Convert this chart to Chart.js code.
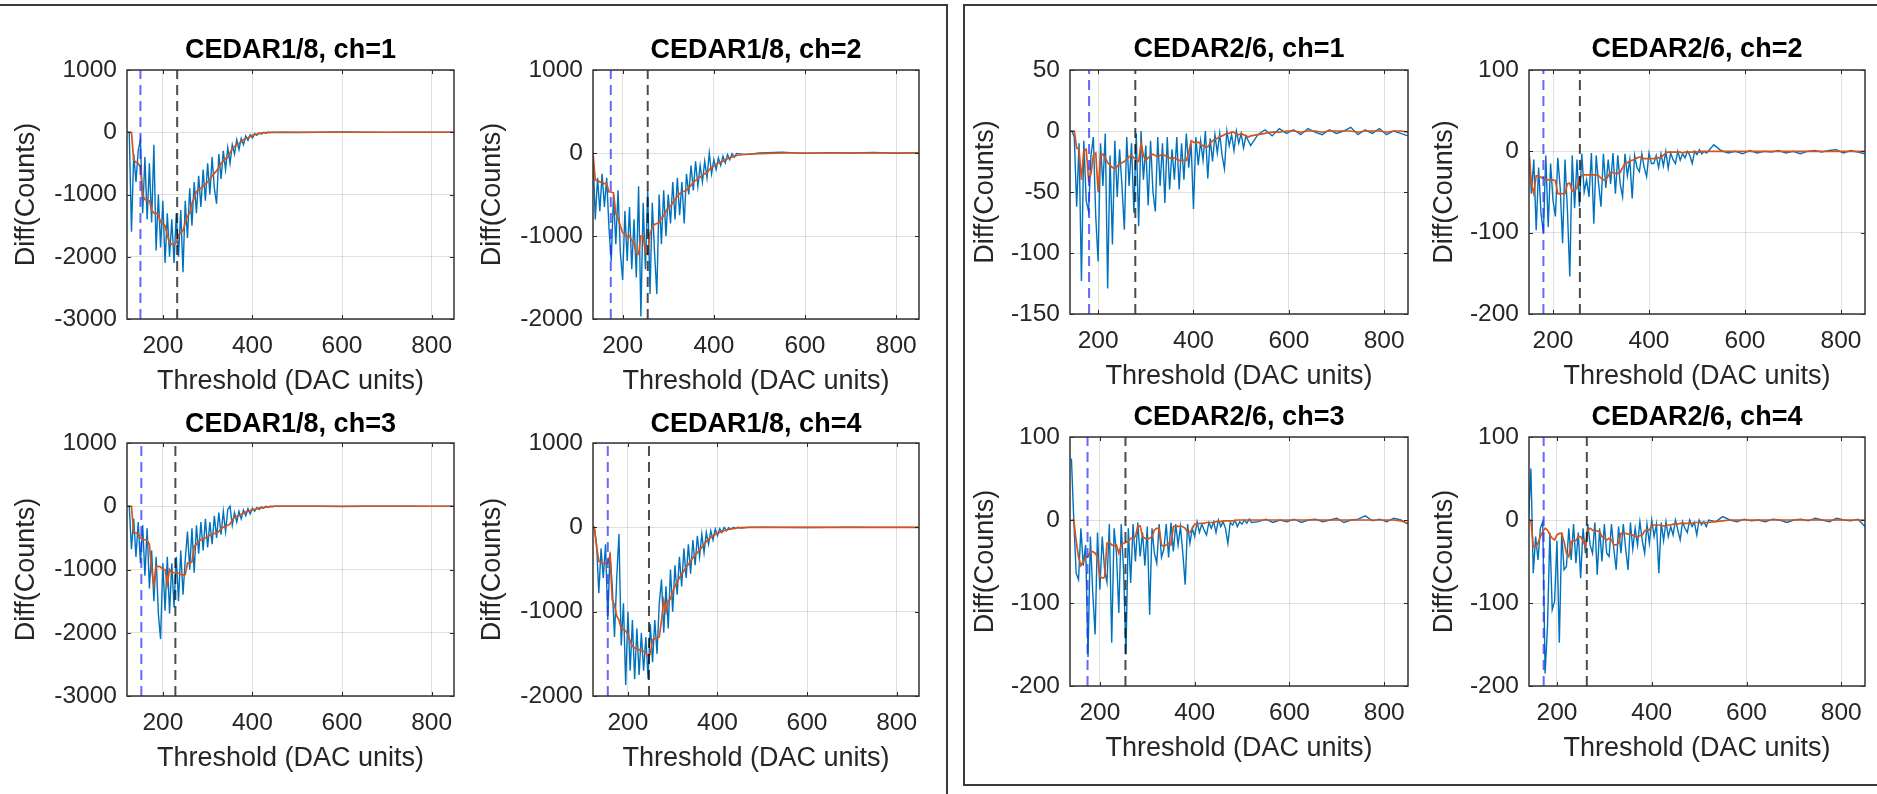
<!DOCTYPE html>
<html lang="en">
<head>
<meta charset="UTF-8">
<title>CEDAR threshold scans</title>
<script src="https://cdn.jsdelivr.net/npm/chart.js"></script>
<style>
    html, body { margin: 0; padding: 0; background: #fff; }
    body { width: 1877px; height: 794px; position: relative; overflow: hidden; }
    .panel { position: absolute; box-sizing: border-box; border: 2px solid #3a3a3a; }
    canvas { position: absolute; }
</style>
</head>
<body>
<div class="panel" style="left:-10px; top:4px; width:958px; height:810px;"></div>
<div class="panel" style="left:963px; top:4px; width:930px; height:782px;"></div>

<script>
// threshold grids (DAC units)
const xLeft = [
    120,125,130,135,140,145,150,155,160,165,
    170,175,180,185,190,195,200,205,210,215,
    220,225,230,235,240,245,250,255,260,265,
    270,275,280,285,290,295,300,305,310,315,
    320,325,330,335,340,345,350,355,360,365,
    370,375,380,385,390,395,400,405,410,415,
    420,425,430,435,440,445,450,
    470,500,550,600,650,700,750,800,850
];
const xRight = [
    140,145,150,155,160,165,170,175,180,185,
    190,195,200,205,210,215,220,225,230,235,
    240,245,250,255,260,265,270,275,280,285,
    290,295,300,305,310,315,320,325,330,335,
    340,345,350,355,360,365,370,375,380,385,
    390,395,400,405,410,415,420,425,430,435,
    440,445,450,455,460,465,470,475,480,485,
    490,495,500,505,510,515,520,
    535,550,565,580,595,610,625,640,655,670,685,700,715,730,745,760,775,790,805,820,835,850
];

// CEDAR1/8 raw difference (blue) and smoothed (orange)
const c18ch1Raw = [
    0,0,-1600,-350,-800,-300,-120,-1300,-400,-1400,
    -500,-1450,-200,-1900,-1000,-1850,-1100,-2100,-1300,-2000,
    -1400,-2100,-1300,-2000,-1250,-2250,-1100,-1700,-900,-1500,
    -800,-1300,-700,-1200,-600,-1100,-500,-1000,-400,-900,
    -1150,-350,-750,-300,-600,-250,-500,-200,-350,-120,
    -280,-100,-200,-60,-130,-40,-90,-20,-50,-10,
    -30,0,-15,0,-8,0,-5,
    0,-3,0,4,0,-2,0,2,0
];
const c18ch1Smooth = [
    0,0,0,-450,-480,-500,-560,-1000,-1080,-1090,
    -1100,-1250,-1300,-1300,-1320,-1450,-1470,-1500,-1650,-1780,
    -1800,-1800,-1780,-1650,-1620,-1580,-1450,-1350,-1300,-1150,
    -1050,-950,-920,-900,-870,-830,-800,-760,-700,-660,
    -620,-560,-500,-470,-420,-400,-330,-260,-230,-200,
    -180,-150,-120,-100,-90,-70,-50,-40,-30,-20,
    -15,-10,-5,-3,0,0,0,
    0,0,0,0,0,0,0,0,0
];
const c18ch2Raw = [
    0,0,0,0,-800,-300,-700,-250,-650,-300,
    -900,-1300,-500,-1100,-450,-1200,-1530,-700,-1300,-650,
    -1400,-800,-1500,-400,-1970,-600,-1400,-450,-1700,-600,
    -1200,-1700,-500,-1100,-450,-1000,-500,-850,-350,-800,
    -300,-750,-350,-850,-250,-500,-150,-450,-100,-400,
    -150,-350,-100,-300,0,-250,-80,-200,-60,-150,
    -40,-120,-20,-80,-10,-50,-5,
    -20,0,10,-5,5,0,8,-3,5
];
const c18ch2Smooth = [
    0,0,0,0,-325,-330,-350,-350,-370,-370,
    -470,-470,-480,-730,-790,-880,-960,-980,-1010,-1000,
    -1050,-1090,-1200,-1220,-1000,-1000,-1200,-1220,-970,-900,
    -860,-850,-840,-780,-760,-700,-660,-640,-600,-560,
    -520,-490,-470,-460,-450,-420,-390,-350,-330,-310,
    -290,-270,-250,-240,-200,-170,-160,-140,-120,-110,
    -100,-80,-70,-60,-50,-40,-30,
    -15,-8,0,0,0,0,0,0,0
];
const c18ch3Raw = [
    0,0,-680,-200,-800,-250,-900,-300,-1100,-350,
    -1300,-700,-1500,-800,-1700,-2100,-900,-1650,-800,-1700,
    -900,-1600,-800,-1500,-700,-1400,-850,-400,-1000,-350,
    -1050,-300,-750,-250,-700,-200,-650,-250,-600,-150,
    -500,-100,-450,-80,-400,-50,0,-300,-100,-250,
    -80,-200,-60,-150,-40,-120,-30,-80,-20,-50,
    -10,-30,0,-15,0,-8,0,
    0,2,0,-3,0,1,0,-2,0
];
const c18ch3Smooth = [
    0,0,0,-420,-420,-430,-500,-520,-530,-540,
    -600,-1000,-1250,-950,-950,-960,-1000,-1000,-1230,-1000,
    -1050,-1050,-1050,-1060,-1080,-1090,-1080,-900,-900,-880,
    -630,-600,-550,-530,-520,-500,-480,-460,-450,-430,
    -420,-400,-350,-330,-320,-300,-280,-220,-170,-160,
    -150,-130,-110,-90,-80,-70,-60,-50,-40,-30,
    -25,-20,-15,-10,-5,0,0,
    0,0,0,0,0,0,0,0,0
];
const c18ch4Raw = [
    0,0,-200,-780,-250,-600,-200,-1100,-300,-700,
    -1300,-600,-80,-1400,-900,-1870,-1000,-1700,-1100,-1800,
    -1200,-1750,-1250,-1700,-1300,-1800,-1150,-1600,-1100,-1500,
    -900,-620,-1250,-700,-1200,-500,-1000,-450,-800,-350,
    -700,-250,-600,-200,-550,-150,-450,-100,-350,-80,
    -300,-60,-200,-40,-150,-20,-100,-15,-60,0,
    -40,-5,-25,0,-15,0,-8,
    0,3,0,-2,0,2,0,-1,0
];
const c18ch4Smooth = [
    0,0,-230,-400,-420,-430,-430,-420,-330,-860,
    -920,-1050,-1100,-1200,-1210,-1230,-1270,-1350,-1410,-1430,
    -1440,-1450,-1460,-1470,-1490,-1530,-1500,-1330,-1320,-1310,
    -1300,-1100,-870,-1000,-870,-850,-760,-700,-650,-600,
    -550,-520,-470,-440,-400,-360,-330,-300,-270,-240,
    -200,-170,-140,-120,-100,-85,-70,-60,-50,-40,
    -30,-25,-20,-15,-10,-5,-3,
    0,0,0,0,0,0,0,0,0
];

// CEDAR2/6 raw difference (blue) and smoothed (orange)
const c26ch1Raw = [
    0,0,-5,-62,-10,-123,-8,-57,-66,-20,
    -5,-70,-107,-10,-45,-2,-129,-20,-93,-8,
    -54,-15,-45,-81,-5,-45,-10,-67,-2,-78,
    0,-40,-12,-61,-8,-50,-66,-5,-45,-10,
    -59,-5,-48,-15,-40,-5,-48,-10,-40,-2,
    -30,-10,-64,-5,-28,-8,-24,0,-39,-6,
    -25,-3,-18,-2,-20,-31,0,-12,-3,-16,
    0,-10,-2,-14,-4,-8,-12,
    -3,1,-4,2,-2,1,-3,2,-1,-3,1,-2,0,3,-3,1,-2,2,-3,0,-2,-4
];
const c26ch1Smooth = [
    0,0,0,-14,-15,-40,-16,-15,-40,-35,
    -20,-18,-50,-20,-19,-22,-26,-28,-30,-31,
    -29,-27,-26,-25,-23,-21,-20,-22,-24,-25,
    -10,-20,-24,-22,-20,-19,-20,-21,-20,-19,
    -20,-21,-22,-23,-22,-23,-24,-24,-24,-24,
    -18,-8,-9,-10,-9,-11,-12,-13,-13,-10,
    -8,-7,-6,-5,-4,-3,-2,-2,-1,-1,
    -3,-3,-2,-3,-4,-5,-4,
    -3,-2,-1,-1,0,0,-1,0,0,-1,0,0,0,0,-1,0,0,0,-1,0,0,-1
];
const c26ch2Raw = [
    0,0,0,-52,-10,-97,-20,-76,-100,-5,
    -93,-15,-60,-80,-8,-45,-113,-10,-72,-154,
    -5,-70,-10,-68,-3,-50,-35,-56,-2,-89,
    -5,-40,-68,-3,-45,-10,-40,-2,-52,-5,
    -40,-56,-3,-30,-10,-58,-5,-20,-25,-3,
    -20,-31,-2,-15,-15,-5,-20,-3,-18,0,
    -21,-2,-10,-15,0,-11,-3,-8,0,-5,
    -15,0,-4,2,-3,0,-2,
    8,1,-2,0,-3,1,-2,0,-1,1,-2,0,-3,0,1,-1,1,2,-2,1,-1,-3
];
const c26ch2Smooth = [
    0,0,0,-40,-52,-30,-30,-32,-33,-34,
    -35,-35,-35,-36,-52,-52,-52,-52,-40,-39,
    -49,-48,-45,-32,-30,-29,-29,-29,-29,-29,
    -29,-30,-33,-35,-35,-30,-26,-26,-27,-27,
    -26,-20,-15,-14,-12,-11,-10,-8,-7,-8,
    -9,-9,-9,-9,-9,-8,-8,-7,-5,-2,
    -1,-1,-1,-1,-1,-1,-2,-1,-1,-1,
    -1,0,-1,-1,0,0,0,
    0,0,0,0,0,0,0,0,0,0,0,0,0,0,0,0,0,0,0,0,0,0
];
const c26ch3Raw = [
    74,0,-64,-72,-10,-55,-30,-165,-20,-88,
    -138,-15,-84,-20,-60,-75,-5,-148,-10,-40,
    -112,-5,-60,-162,-10,-76,-5,-50,-3,-44,
    -15,-55,-8,-114,-10,-40,-52,-5,-45,-35,
    -5,-45,-3,-38,-5,-30,-8,-40,-78,-5,
    -28,-10,-20,-2,-15,-5,-12,-18,-3,-10,
    -2,-15,0,-8,-2,-10,-28,-3,-6,0,
    -8,-2,-5,0,-4,1,-3,
    -2,1,-3,0,-2,1,-3,0,1,-2,0,2,-3,0,1,5,-1,1,-2,2,0,-5
];
const c26ch3Smooth = [
    0,0,-25,-45,-55,-50,-45,-44,-38,-38,
    -40,-45,-68,-70,-69,-28,-27,-30,-31,-30,
    -40,-30,-28,-27,-26,-22,-22,-20,-8,-7,
    -20,-22,-23,-22,-20,-12,-10,-10,-30,-32,
    -30,-28,-30,-8,-7,-8,-7,-8,-10,-15,
    -15,-10,-5,-5,-4,-4,-4,-3,-3,-3,
    -3,-2,-2,-2,-1,-1,-1,-1,-1,-1,
    0,0,0,0,0,0,0,
    0,0,0,0,0,0,0,0,0,0,0,0,0,0,0,0,0,0,0,0,-1,-4
];
const c26ch4Raw = [
    0,62,-64,-20,-48,-10,-2,-185,-128,-15,
    -108,-98,-25,-148,-15,-60,-56,-10,-48,-5,
    -52,-15,-70,-10,-40,-5,-30,-40,-3,-66,
    -10,-50,-5,-40,-44,-5,-35,-60,-8,-40,
    -5,-35,-60,-3,-35,-10,-30,-2,-25,-40,
    -5,-28,0,-20,-5,-64,-3,-25,-2,-20,
    -8,-18,0,-12,-24,-2,-10,-15,0,-8,
    -3,-18,0,-6,-2,-8,0,
    -2,4,0,-2,1,-1,0,-2,1,0,-3,0,1,-1,2,0,-2,2,0,-1,1,-8
];
const c26ch4Smooth = [
    0,0,-32,-32,-28,-20,-14,-10,-12,-18,
    -22,-24,-18,-16,-16,-26,-40,-44,-26,-25,
    -25,-20,-20,-25,-32,-12,-10,-12,-14,-13,
    -14,-20,-22,-24,-22,-24,-30,-30,-28,-16,
    -16,-16,-17,-17,-18,-20,-20,-19,-18,-13,
    -12,-12,-7,-6,-6,-6,-7,-7,-7,-6,
    -6,-5,-5,-5,-4,-4,-4,-4,-4,-4,
    -3,-3,-3,-3,-3,-3,-3,
    -2,-1,0,0,0,0,0,0,0,0,0,0,0,0,0,0,0,0,0,0,0,0
];

// vertical marker thresholds (blue and black dashed), ch1..ch4
const c18BlueMark = [150, 174, 152, 155];
const c18BlackMark = [232, 255, 228, 247];
const c26BlueMark = [181, 180, 174, 172];
const c26BlackMark = [278, 256, 254, 263];

// axis limits and ticks
const c18XLim = [[120, 850], [135, 850], [120, 850], [122, 850]];
const c26XLim = [[141, 850], [150, 850], [137, 850], [141, 850]];
const c18YLim = [[-3000, 1000], [-2000, 1000], [-3000, 1000], [-2000, 1000]];
const c26YLim = [[-150, 50], [-200, 100], [-200, 100], [-200, 100]];
const xTickValues = [200, 400, 600, 800];
const c18YTicks = [[-3000, -2000, -1000, 0, 1000], [-2000, -1000, 0, 1000], [-3000, -2000, -1000, 0, 1000], [-2000, -1000, 0, 1000]];
const c26YTicks = [[-150, -100, -50, 0, 50], [-200, -100, 0, 100], [-200, -100, 0, 100], [-200, -100, 0, 100]];

const c18Raw = [c18ch1Raw, c18ch2Raw, c18ch3Raw, c18ch4Raw];
const c18Smooth = [c18ch1Smooth, c18ch2Smooth, c18ch3Smooth, c18ch4Smooth];
const c26Raw = [c26ch1Raw, c26ch2Raw, c26ch3Raw, c26ch4Raw];
const c26Smooth = [c26ch1Smooth, c26ch2Smooth, c26ch3Smooth, c26ch4Smooth];

// page placement of each plot box: [left, top, right, bottom], title centre y
const c18Boxes = [[127, 70, 454, 319], [593, 70, 919, 319], [127, 443, 454, 696], [593, 443, 919, 696]];
const c18TitleY = [51, 51, 425, 425];
const c26Boxes = [[1070, 70, 1408, 314], [1529, 70, 1865, 314], [1070, 437, 1408, 686], [1529, 437, 1865, 686]];
const c26TitleY = [50, 50, 418, 418];

const FONT = "'Liberation Sans', Arial, Helvetica, sans-serif";
const INK = '#262626';

// MATLAB-like closed box with inward tick marks
const boxPlugin = {
    id: 'matlabBox',
    afterDatasetsDraw(chart) {
        const {ctx, chartArea: a, scales} = chart;
        const tl = 4;
        ctx.save();
        ctx.strokeStyle = INK;
        ctx.lineWidth = 1;
        ctx.beginPath();
        scales.x.ticks.forEach(t => {
            const px = Math.round(scales.x.getPixelForValue(t.value)) + 0.5;
            ctx.moveTo(px, a.bottom); ctx.lineTo(px, a.bottom - tl);
            ctx.moveTo(px, a.top); ctx.lineTo(px, a.top + tl);
        });
        scales.y.ticks.forEach(t => {
            const py = Math.round(scales.y.getPixelForValue(t.value)) + 0.5;
            ctx.moveTo(a.left, py); ctx.lineTo(a.left + tl, py);
            ctx.moveTo(a.right, py); ctx.lineTo(a.right - tl, py);
        });
        ctx.stroke();
        ctx.lineWidth = 1.5;
        ctx.strokeStyle = '#333';
        ctx.strokeRect(a.left, a.top, a.right - a.left, a.bottom - a.top);
        ctx.restore();
    }
};

function makePlot(p) {
    const [l, t, r, b] = p.box;
    const lw = p.axisW, th = 60, bh = 85, rw = 12;
    const cv = document.createElement('canvas');
    cv.width = lw + (r - l) + rw;
    cv.height = th + (b - t) + bh;
    cv.style.left = (l - lw) + 'px';
    cv.style.top = (t - th) + 'px';
    document.body.appendChild(cv);

    const pt = p.titleY - t + th - 16.2;
    const pairs = (xs, ys) => xs.map((x, i) => ({x: x, y: ys[i]}));
    const mark = (v, color) => ({
        data: [{x: v, y: p.yLim[0]}, {x: v, y: p.yLim[1]}],
        borderColor: color, borderWidth: 2, borderDash: [10, 6], order: 1
    });

    new Chart(cv, {
        type: 'line',
        data: {
            datasets: [
                mark(p.blueMark, 'rgba(40,40,255,0.7)'),
                mark(p.blackMark, 'rgba(0,0,0,0.7)'),
                { data: pairs(p.x, p.smooth), borderColor: '#D95319', borderWidth: 1.7, order: 2 },
                { data: pairs(p.x, p.raw), borderColor: '#0072BD', borderWidth: 1.4, order: 3 }
            ]
        },
        options: {
            responsive: false,
            animation: false,
            events: [],
            elements: { point: { radius: 0 }, line: { tension: 0 } },
            layout: { padding: { left: 0, top: 0, right: rw, bottom: 0 } },
            plugins: {
                legend: { display: false },
                tooltip: { enabled: false },
                title: {
                    display: true, text: p.title, fullSize: false, color: '#000',
                    font: { family: FONT, size: 27, weight: 'bold' },
                    padding: { top: pt, bottom: th - 32.4 - pt }
                }
            },
            scales: {
                x: {
                    type: 'linear', min: p.xLim[0], max: p.xLim[1],
                    afterBuildTicks: s => { s.ticks = xTickValues.map(v => ({value: v})); },
                    afterFit: s => { s.height = bh; },
                    grid: { color: 'rgba(38,38,38,0.15)', drawTicks: false },
                    border: { display: false },
                    ticks: { padding: 12.5, color: INK, maxRotation: 0, font: { family: FONT, size: 24.5 }, callback: v => String(v) },
                    title: { display: true, text: 'Threshold (DAC units)', color: INK, font: { family: FONT, size: 27 }, padding: { top: 0, bottom: bh - 63 - 16.2 } }
                },
                y: {
                    min: p.yLim[0], max: p.yLim[1],
                    afterBuildTicks: s => { s.ticks = p.yTicks.map(v => ({value: v})); },
                    afterFit: s => { s.width = lw; },
                    grid: { color: 'rgba(38,38,38,0.15)', drawTicks: false },
                    border: { display: false },
                    ticks: { padding: 10, color: INK, font: { family: FONT, size: 24.5 }, callback: v => String(v) },
                    title: { display: true, text: 'Diff(Counts)', color: INK, font: { family: FONT, size: 27 }, padding: { top: lw - p.yTitleOff - 16.2, bottom: 0 } }
                }
            }
        },
        plugins: [boxPlugin]
    });
}

for (let i = 0; i < 4; i++) {
    makePlot({
        title: 'CEDAR1/8, ch=' + (i + 1), x: xLeft, raw: c18Raw[i], smooth: c18Smooth[i],
        blueMark: c18BlueMark[i], blackMark: c18BlackMark[i],
        xLim: c18XLim[i], yLim: c18YLim[i], yTicks: c18YTicks[i],
        box: c18Boxes[i], titleY: c18TitleY[i], axisW: 122, yTitleOff: 100
    });
    makePlot({
        title: 'CEDAR2/6, ch=' + (i + 1), x: xRight, raw: c26Raw[i], smooth: c26Smooth[i],
        blueMark: c26BlueMark[i], blackMark: c26BlackMark[i],
        xLim: c26XLim[i], yLim: c26YLim[i], yTicks: c26YTicks[i],
        box: c26Boxes[i], titleY: c26TitleY[i], axisW: 106, yTitleOff: 84
    });
}
</script>
</body>
</html>
